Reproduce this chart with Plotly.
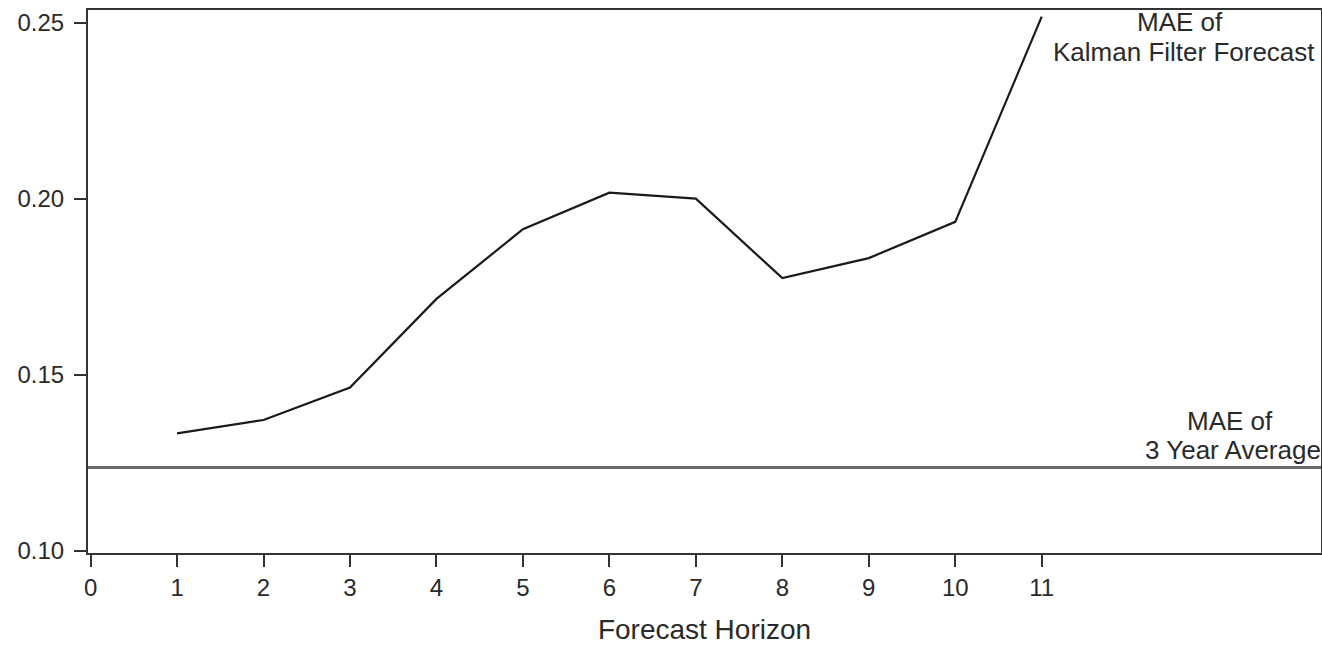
import plotly.graph_objects as go

horizons = [1, 2, 3, 4, 5, 6, 7, 8, 9, 10, 11]
mae_kalman = [0.1333, 0.1371, 0.1463, 0.1715, 0.1913, 0.2017, 0.2000, 0.1774, 0.1831, 0.1934, 0.2517]
mae_3yr_avg = 0.1236
x_tick_vals = [0, 1, 2, 3, 4, 5, 6, 7, 8, 9, 10, 11]
y_tick_vals = [0.10, 0.15, 0.20, 0.25]
x_range = [-0.03, 14.23]
y_range = [0.0993, 0.2536]

FONT = "Liberation Sans, Arial, sans-serif"
TXT = "#2a2a2a"

fig = go.Figure()
fig.add_trace(go.Scatter(
    x=x_range, y=[mae_3yr_avg, mae_3yr_avg], mode="lines",
    line=dict(color="#6a6a6a", width=2.8), showlegend=False, hoverinfo="skip"))
fig.add_trace(go.Scatter(
    x=horizons, y=mae_kalman, mode="lines",
    line=dict(color="#1a1a1a", width=2.2), showlegend=False))

ann_font = dict(family=FONT, size=26, color=TXT)
fig.add_annotation(x=12.60, y=0.2502, xref="x", yref="y", text="MAE of",
                   showarrow=False, font=ann_font, xanchor="center", yanchor="middle")
fig.add_annotation(x=12.65, y=0.2417, xref="x", yref="y", text="Kalman Filter Forecast",
                   showarrow=False, font=ann_font, xanchor="center", yanchor="middle")
fig.add_annotation(x=13.18, y=0.1367, xref="x", yref="y", text="MAE of",
                   showarrow=False, font=ann_font, xanchor="center", yanchor="middle")
fig.add_annotation(x=13.21, y=0.1285, xref="x", yref="y", text="3 Year Average",
                   showarrow=False, font=ann_font, xanchor="center", yanchor="middle")

fig.update_layout(
    width=1322, height=645,
    margin=dict(l=88, r=1, t=10, b=92, autoexpand=False),
    paper_bgcolor="white", plot_bgcolor="white",
    font=dict(family=FONT, color=TXT),
)
fig.update_xaxes(
    range=x_range, tickvals=x_tick_vals, showgrid=False, zeroline=False, automargin=False,
    showline=True, linecolor="#333", linewidth=2, mirror=True,
    ticks="outside", ticklen=12, tickwidth=2, tickcolor="#333",
    tickfont=dict(family=FONT, size=24, color=TXT),
    title=dict(text="Forecast Horizon", font=dict(family=FONT, size=28, color=TXT), standoff=29),
)
fig.update_yaxes(
    range=y_range, tickvals=y_tick_vals, tickformat=".2f", showgrid=False, zeroline=False, automargin=False,
    showline=True, linecolor="#333", linewidth=2, mirror=True,
    ticks="outside", ticklen=12, tickwidth=2, tickcolor="#333", ticklabelstandoff=5,
    tickfont=dict(family=FONT, size=24, color=TXT),
)

fig.write_html(
    "out.html",
    config={"displayModeBar": False},
    post_script="document.body.style.margin='0';document.body.style.overflow='hidden';",
)
